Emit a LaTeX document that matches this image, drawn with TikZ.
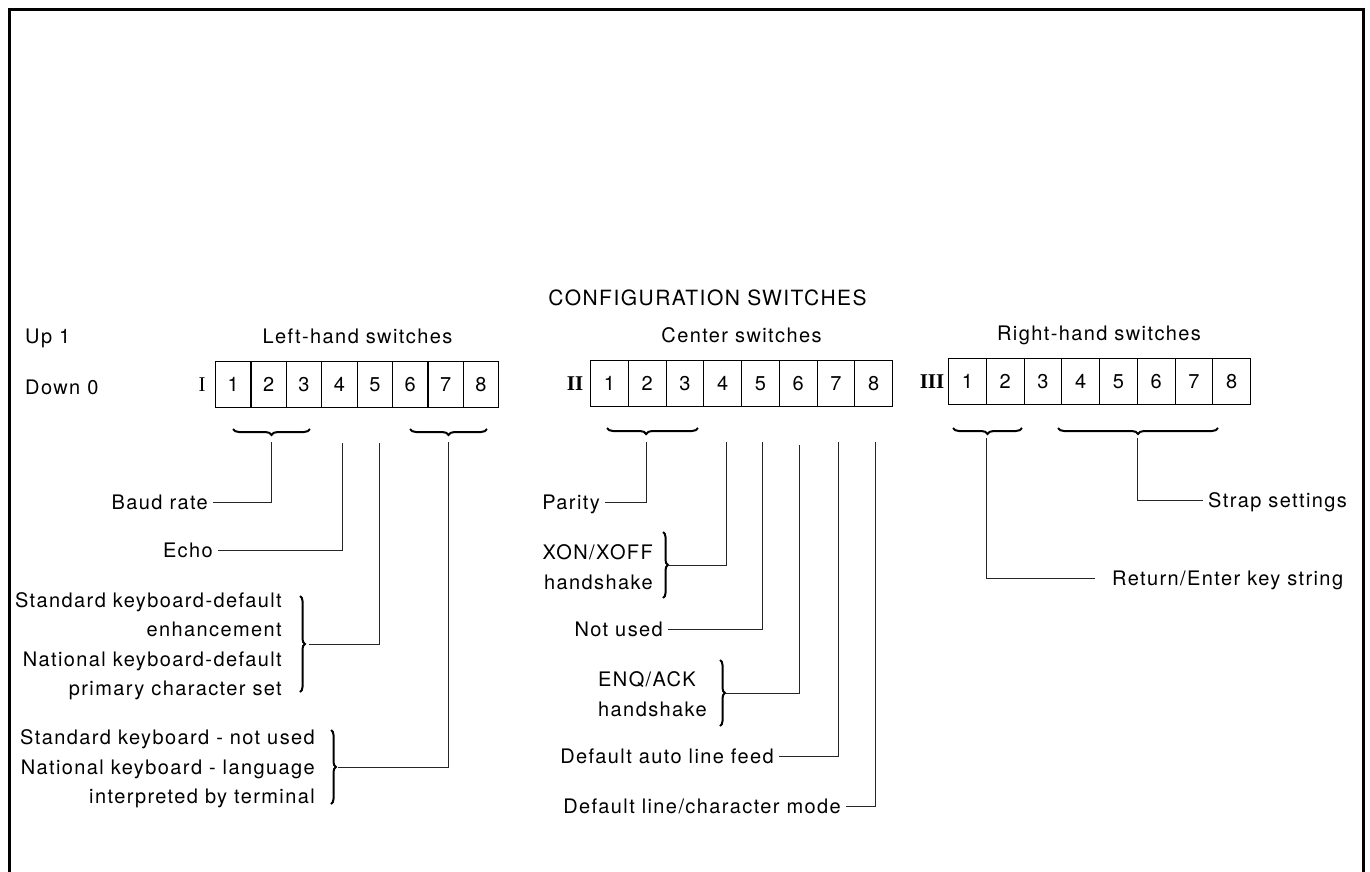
\documentclass[tikz,border=0pt]{standalone}
\usepackage{fontspec}
\setmainfont{TeX Gyre Heros}[LetterSpace=7]
\newfontfamily\romfont{Liberation Serif}
\usetikzlibrary{decorations.pathreplacing}
\begin{document}
\begin{tikzpicture}[x=1pt,y=-1pt,
  lbl/.style={font=\fontsize{20}{29.5}\selectfont, inner xsep=5pt, inner ysep=0pt, text height=14pt, text depth=0pt},
  mlbl/.style={font=\fontsize{20}{29.5}\selectfont, inner xsep=5pt, inner ysep=0pt},
  cell/.style={draw, line width=1.1pt, minimum height=46pt, inner sep=0pt, anchor=north west, font=\fontsize{20}{24}\selectfont, text height=14pt, text depth=0pt},
  rom/.style={font=\romfont\fontsize{21}{24}\selectfont, inner sep=0pt},
  romb/.style={font=\romfont\bfseries\fontsize{21}{24}\selectfont, inner sep=0pt},
  conn/.style={line width=0.9pt, black!85},
  brc/.style={decorate, decoration={brace, amplitude=5pt}, line width=2pt},
  brcm/.style={decorate, decoration={brace, mirror, amplitude=6pt}, line width=2pt},
  frm/.style={line width=3pt}]
\useasboundingbox (0,0) rectangle (1370,871);
\draw[frm] (9,880) -- (9,9) -- (1363,9) -- (1363,880);

% titles
\node[lbl, font=\fontsize{21}{25}\selectfont] (title) at (707.5,298) {CONFIGURATION SWITCHES};
\node[lbl, anchor=west] (up) at (20,336) {Up 1};
\node[lbl, anchor=west] (down) at (20,387) {Down 0};
\node[lbl] (lhs) at (357.5,336) {Left-hand switches};
\node[lbl] (chs) at (741.5,335) {Center switches};
\node[lbl] (rhs) at (1099,333) {Right-hand switches};

% switch rows
\node[rom] (rI) at (202,385) {I};
\node[romb] (rII) at (575,384) {II};
\node[romb] (rIII) at (932,382) {III};
\foreach \i in {1,...,8} {
  \node[cell, minimum width=35.4pt] (L\i) at ({215+(\i-1)*35.4},361) {\i};
  \node[cell, minimum width=37.75pt] (C\i) at ({590+(\i-1)*37.75},360) {\i};
  \node[cell, minimum width=37.75pt] (R\i) at ({948+(\i-1)*37.75},358) {\i};
}

% horizontal braces
\draw[brcm] (233,429) -- (310,429);
\draw[brcm] (410,429) -- (487,429);
\draw[brcm, decoration={aspect=0.43}] (607,428) -- (698,428);
\draw[brcm] (953,428) -- (1022,428);
\draw[brcm] (1058,428) -- (1218,428);

% top ends of connectors
\coordinate (tL1) at (271,442);
\coordinate (tL4) at (342,443);
\coordinate (tL5) at (379,443);
\coordinate (tL2) at (448,442);
\coordinate (tC1) at (646,442);
\coordinate (tC4) at (726,442);
\coordinate (tC5) at (762,442);
\coordinate (tC6) at (799,445);
\coordinate (tC7) at (838,442);
\coordinate (tC8) at (875,442);
\coordinate (tR1) at (986,438);
\coordinate (tR2) at (1137,438);

% left labels
\node[lbl, anchor=east] (baud) at (213,502) {Baud rate};
\node[lbl, anchor=east] (echo) at (218,550) {Echo};
\node[mlbl, anchor=east, align=right] (std) at (287,646) {Standard keyboard-default\\enhancement\\National keyboard-default\\primary character set};
\node[mlbl, anchor=east, align=right] (natl) at (320,769) {Standard keyboard - not used\\National keyboard - language\\interpreted by terminal};
\draw[brc] (300,596) -- (300,692);
\draw[brc] (331,730) -- (331,804);
\coordinate (bstd) at (309,644);
\coordinate (bnatl) at (338,767);

% center labels
\node[lbl, anchor=east] (parity) at (605,502) {Parity};
\node[mlbl, anchor=east, align=right] (xon) at (658,567) {XON/XOFF\\handshake};
\node[lbl, anchor=east] (notused) at (668,629) {Not used};
\node[mlbl, anchor=west, align=left] (enq) at (593,694) {ENQ/ACK\\handshake};
\node[lbl, anchor=east] (autolf) at (779,756) {Default auto line feed};
\node[lbl, anchor=east] (linemode) at (846,806) {Default line/character mode};
\draw[brc] (663,532) -- (663,598);
\draw[brc] (720,660) -- (720,726);
\coordinate (bxon) at (668,565);
\coordinate (benq) at (726,693);

% right labels
\node[lbl, anchor=west] (strap) at (1203,500) {Strap settings};
\node[lbl, anchor=west] (ret) at (1107,578) {Return/Enter key string};

% connectors
\draw[conn] (tL1) |- (baud);
\draw[conn] (tL4) |- (echo);
\draw[conn] (tL5) |- (bstd);
\draw[conn] (tL2) |- (bnatl);
\draw[conn] (tC1) |- (parity);
\draw[conn] (tC4) |- (bxon);
\draw[conn] (tC5) |- (notused);
\draw[conn] (tC6) |- (benq);
\draw[conn] (tC7) |- (autolf);
\draw[conn] (tC8) |- (linemode);
\draw[conn, shorten >=12pt] (tR1) |- (ret);
\draw[conn] (tR2) |- (strap);
\end{tikzpicture}
\end{document}
